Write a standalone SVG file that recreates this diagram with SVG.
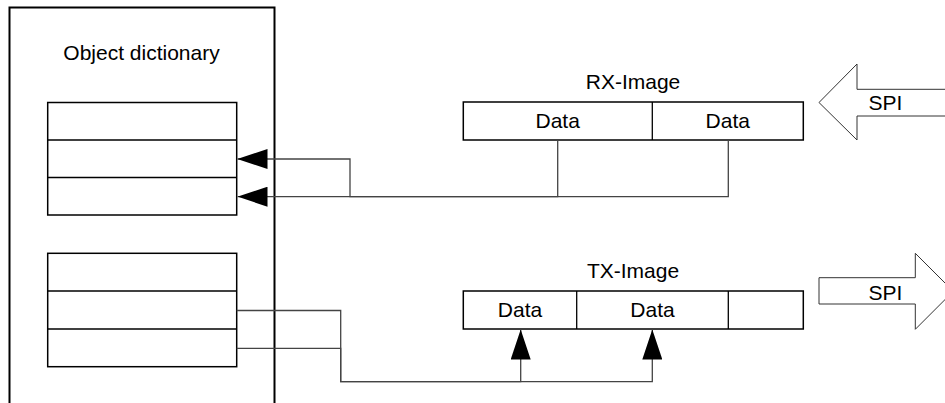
<svg xmlns="http://www.w3.org/2000/svg" width="945" height="403" viewBox="0 0 945 403">
  <style>
    .box { fill: #fff; stroke: #000; stroke-width: 1.5; }
    .outer { fill: none; stroke: #000; stroke-width: 2; }
    .div { stroke: #000; stroke-width: 1.3; fill: none; }
    .conn { fill: none; stroke: #444; stroke-width: 1.3; }
    .spi { fill: #fff; stroke: #333; stroke-width: 1; }
    text { font-family: "Liberation Sans", Arial, sans-serif; font-size: 21px; fill: #000; text-anchor: middle; }
  </style>
  <defs>
    <marker id="ah" viewBox="0 0 30 20" refX="30" refY="10" markerWidth="30" markerHeight="20" markerUnits="userSpaceOnUse" orient="auto">
      <path d="M0,0 L30,10 L0,20 Z" fill="#000"/>
    </marker>
  </defs>

  <g id="object-dictionary">
    <path class="outer" d="M9.5,410 V7.5 H274.5 V410"/>
    <text x="141.5" y="60">Object dictionary</text>
  </g>

  <g id="od-rx-entries">
    <rect class="box" x="47.7" y="102.5" width="189" height="112.5"/>
    <line class="div" x1="47.7" y1="140" x2="236.7" y2="140"/>
    <line class="div" x1="47.7" y1="177.5" x2="236.7" y2="177.5"/>
  </g>

  <g id="od-tx-entries">
    <rect class="box" x="47.7" y="253.3" width="189" height="113.4"/>
    <line class="div" x1="47.7" y1="291" x2="236.7" y2="291"/>
    <line class="div" x1="47.7" y1="329" x2="236.7" y2="329"/>
  </g>

  <g id="rx-image">
    <text x="633" y="88.5">RX-Image</text>
    <rect class="box" x="463.3" y="102" width="340" height="38"/>
    <line class="div" x1="652.3" y1="102" x2="652.3" y2="140"/>
    <text x="557.7" y="127.5">Data</text>
    <text x="727.8" y="127.5">Data</text>
  </g>

  <g id="tx-image">
    <text x="633" y="277.5">TX-Image</text>
    <rect class="box" x="463.3" y="291" width="340" height="38"/>
    <line class="div" x1="576.7" y1="291" x2="576.7" y2="329"/>
    <line class="div" x1="728.3" y1="291" x2="728.3" y2="329"/>
    <text x="520" y="316.5">Data</text>
    <text x="652.5" y="316.5">Data</text>
  </g>

  <g id="spi-in">
    <path class="spi" d="M950,89.3 H857 V64 L819,102.5 L857,140 V116 H950 Z"/>
    <text x="885.5" y="110">SPI</text>
  </g>

  <g id="spi-out">
    <path class="spi" d="M819,277.7 H915.3 V253.3 L953.3,291.3 L915.3,329.3 V304 H819 Z"/>
    <text x="885.5" y="300">SPI</text>
  </g>

  <g id="connectors">
    <path class="conn" d="M728.3,140 V196.7 H237.5" marker-end="url(#ah)"/>
    <path class="conn" d="M557.7,140 V196.7 H350 V159 H237.5" marker-end="url(#ah)"/>
    <path class="conn" d="M236.7,310.5 H340.7 V381.7 H520.7 V329.5" marker-end="url(#ah)"/>
    <path class="conn" d="M236.7,348.3 H340.7 V381.7 H652.3 V329.5" marker-end="url(#ah)"/>
  </g>
</svg>
